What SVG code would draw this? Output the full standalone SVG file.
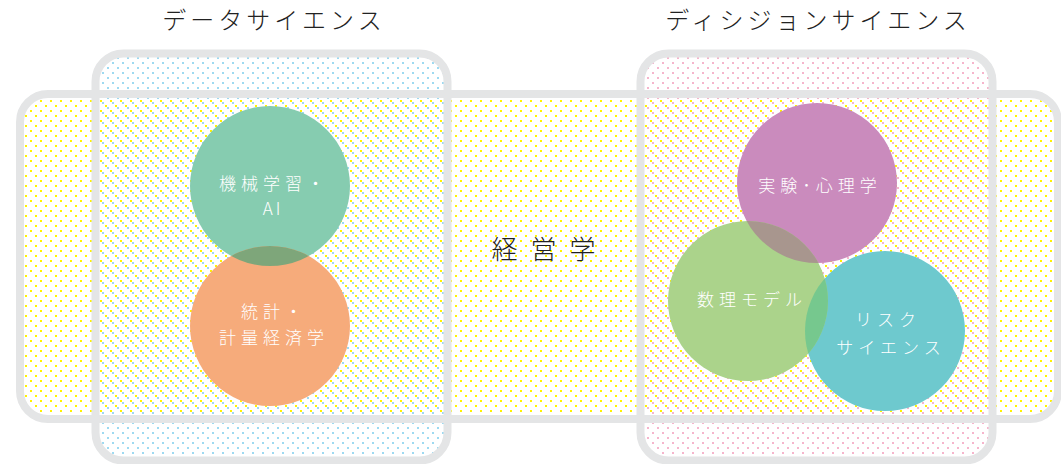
<svg xmlns="http://www.w3.org/2000/svg" width="1061" height="464" viewBox="0 0 1061 464">
<defs>
<pattern id="pY" width="10" height="10" patternUnits="userSpaceOnUse"><rect x="0" y="0" width="2" height="2" fill="#fff200"/><rect x="5" y="5" width="2" height="2" fill="#fff200"/></pattern>
<pattern id="pB" x="2" y="2" width="10" height="10" patternUnits="userSpaceOnUse"><rect x="0" y="0" width="2" height="2" fill="#9dd9f1"/><rect x="5" y="5" width="2" height="2" fill="#9dd9f1"/></pattern>
<pattern id="pP" x="2" y="2" width="10" height="10" patternUnits="userSpaceOnUse"><rect x="0" y="0" width="2" height="2" fill="#f5b5cc"/><rect x="5" y="5" width="2" height="2" fill="#f5b5cc"/></pattern>
<clipPath id="cStat"><circle cx="270" cy="326" r="80"/></clipPath>
<clipPath id="cPsy"><circle cx="817" cy="183" r="80"/></clipPath>
<clipPath id="cRisk"><circle cx="885" cy="331" r="80"/></clipPath>
</defs>
<style>
.frame{fill:none;stroke:#e4e5e6;stroke-width:8}
.title{font-family:"Noto Sans CJK JP",sans-serif;font-weight:300;font-size:24px;fill:#222;text-anchor:middle;letter-spacing:4px}
.lab{font-family:"Noto Sans CJK JP",sans-serif;font-weight:300;font-size:17px;fill:#fff;text-anchor:middle;letter-spacing:5px}
</style>
<rect width="1061" height="464" fill="#fff"/>
<g id="fills">
<rect x="20" y="94" width="1038" height="325" rx="28" fill="url(#pY)"/>
<rect x="95.5" y="53.5" width="352" height="407" rx="28" fill="url(#pB)"/>
<rect x="640.5" y="53.5" width="352" height="407" rx="28" fill="url(#pP)"/>
</g>
<g id="frames">
<rect class="frame" x="20" y="94" width="1038" height="325" rx="28"/>
<rect class="frame" x="95.5" y="53.5" width="352" height="407" rx="28"/>
<rect class="frame" x="640.5" y="53.5" width="352" height="407" rx="28"/>
</g>
<text class="title" x="274" y="29">データサイエンス</text>
<text class="title" x="818" y="29">ディシジョンサイエンス</text>
<g id="keiei"><text x="550" y="259" style="font-family:'Noto Sans CJK JP',sans-serif;font-weight:300;font-size:26px;fill:#222;text-anchor:middle;letter-spacing:13px">経営学</text></g>
<g id="circles">
<circle id="c-ml" cx="270" cy="186" r="80" fill="#86ccb0"/>
<circle id="c-stat" cx="270" cy="326" r="80" fill="#f6ab7b"/>
<circle id="c-psy" cx="817" cy="183" r="80" fill="#ca8bbd"/>
<circle id="c-risk" cx="885" cy="331" r="80" fill="#6ec9ce"/>
<circle id="c-math" cx="748" cy="301" r="80" fill="#abd38b"/>
</g>
<g id="overlaps">
<circle cx="270" cy="186" r="80" fill="#7ea67a" clip-path="url(#cStat)"/>
<circle cx="748" cy="301" r="80" fill="#a8968e" clip-path="url(#cPsy)"/>
<circle cx="748" cy="301" r="80" fill="#76c88e" clip-path="url(#cRisk)"/>
</g>
<g id="ml"><text class="lab" x="274" y="190">機械学習・</text><text class="lab" x="273" y="215" style="letter-spacing:3px">AI</text></g>
<g id="stat"><text class="lab" x="274" y="318">統計・</text><text class="lab" x="274" y="344">計量経済学</text></g>
<g id="psy"><text class="lab" x="820" y="192">実験･心理学</text></g>
<g id="risk"><text class="lab" x="888" y="326">リスク</text><text class="lab" x="891" y="354">サイエンス</text></g>
<g id="math"><text class="lab" x="752" y="306">数理モデル</text></g>
</svg>
